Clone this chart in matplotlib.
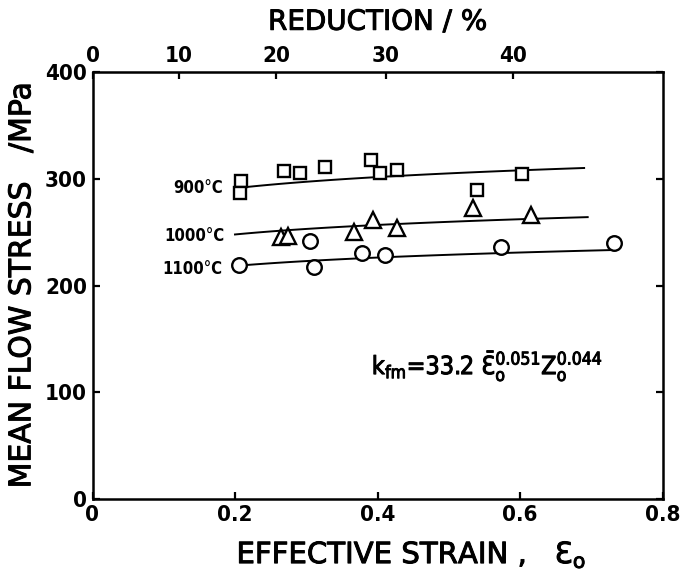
import numpy as np
import matplotlib
matplotlib.use("Agg")
import matplotlib.pyplot as plt
import matplotlib.patheffects as pe

# Mean flow stress measurements (MPa) against effective strain
temps = ["900°C", "1000°C", "1100°C"]

strain_900 = [0.209, 0.207, 0.269, 0.291, 0.326, 0.391, 0.403, 0.428, 0.540, 0.603]
stress_900 = [298, 287, 307, 305, 311, 318, 305, 308, 289, 304]

strain_1000 = [0.265, 0.275, 0.367, 0.393, 0.428, 0.534, 0.615]
stress_1000 = [245, 246, 250, 261, 254, 273, 266]

strain_1100 = [0.205, 0.305, 0.311, 0.378, 0.411, 0.573, 0.732]
stress_1100 = [219, 242, 217, 230, 229, 236, 240]

# Fitted curves k = C * eps^0.051, with C = 33.2 * Z^0.044 for each temperature
fit_coef = [316, 269, 237]
fit_strain_exp = 0.051
fit_start = [0.21, 0.20, 0.21]
fit_end = [0.69, 0.695, 0.73]

# Curve label anchors (right edge of text)
label_strain = [0.183, 0.186, 0.183]
label_stress = [291, 246.5, 215.5]

strain_ticks = [0, 0.2, 0.4, 0.6, 0.8]
strain_ticklabels = ["0", "0.2", "0.4", "0.6", "0.8"]
stress_ticks = [0, 100, 200, 300, 400]
reduction_ticks = [0, 10, 20, 30, 40]

plt.rcParams["font.family"] = ["DejaVu Sans"]
plt.rcParams["mathtext.fontset"] = "dejavusans"

fig = plt.figure(figsize=(6.83, 5.73), dpi=100)
ax = fig.add_axes([92.5 / 683, 74 / 573, 570 / 683, 427 / 573])

markers = ["s", "^", "o"]
msizes = [9, 11, 10.5]
series = [(strain_900, stress_900), (strain_1000, stress_1000), (strain_1100, stress_1100)]

for i, (xs, ys) in enumerate(series):
    e = np.linspace(fit_start[i], fit_end[i], 100)
    ax.plot(e, fit_coef[i] * e ** fit_strain_exp, color="black", lw=1.4, zorder=2)
    ax.plot(xs, ys, linestyle="none", marker=markers[i], ms=msizes[i],
            mfc="white", mec="black", mew=1.7, zorder=3)
    ax.text(label_strain[i], label_stress[i], temps[i], ha="right", va="center",
            fontsize=12, fontweight="bold", fontstretch="condensed")

ax.text(0.392, 117,
        r"$\mathregular{k_{fm}}$=33.2 $\mathregular{\bar{Ɛ}_o^{0.051}}$"
        r"$\mathregular{Z_o^{0.044}}$",
        fontsize=18, fontstretch="condensed", ha="left", va="baseline",
        path_effects=[pe.withStroke(linewidth=0.7, foreground="black")])

ax.set_xlim(0, 0.8)
ax.set_ylim(0, 400)
ax.set_xticks(strain_ticks)
ax.set_xticklabels(strain_ticklabels)
ax.set_yticks(stress_ticks)
ax.tick_params(direction="in", length=5, width=1.6, labelsize=16,
               right=True, top=False, pad=4)
for lab in ax.get_xticklabels() + ax.get_yticklabels():
    lab.set_fontstretch("condensed")
    lab.set_fontweight("bold")
for s in ax.spines.values():
    s.set_linewidth(1.8)

ax.set_xlabel(r"EFFECTIVE STRAIN ,   $\mathregular{Ɛ_o}$", fontsize=21, va="baseline",
              path_effects=[pe.withStroke(linewidth=0.7, foreground="black")])
ax.xaxis.set_label_coords(0.559, -0.1506)
ax.set_ylabel("MEAN FLOW STRESS   /MPa", fontsize=21.5, va="center",
              path_effects=[pe.withStroke(linewidth=0.7, foreground="black")])
ax.yaxis.set_label_coords(-0.124, 0.5)

k = np.sqrt(3) / 2


def strain_to_reduction(e):
    e = np.asarray(e, dtype=float)
    return 100 * (1 - np.exp(-k * e))


def reduction_to_strain(r):
    r = np.clip(np.asarray(r, dtype=float), -1e6, 99.999)
    return -np.log(1 - r / 100) / k


secax = ax.secondary_xaxis("top", functions=(strain_to_reduction, reduction_to_strain))
secax.set_xticks(reduction_ticks)
secax.tick_params(direction="in", length=5, width=1.6, labelsize=16, pad=4)
for lab in secax.get_xticklabels():
    lab.set_fontstretch("condensed")
    lab.set_fontweight("bold")
secax.set_xlabel("REDUCTION / %", fontsize=20, labelpad=12,
                 path_effects=[pe.withStroke(linewidth=0.7, foreground="black")])

fig.savefig("out.png", dpi=100)
